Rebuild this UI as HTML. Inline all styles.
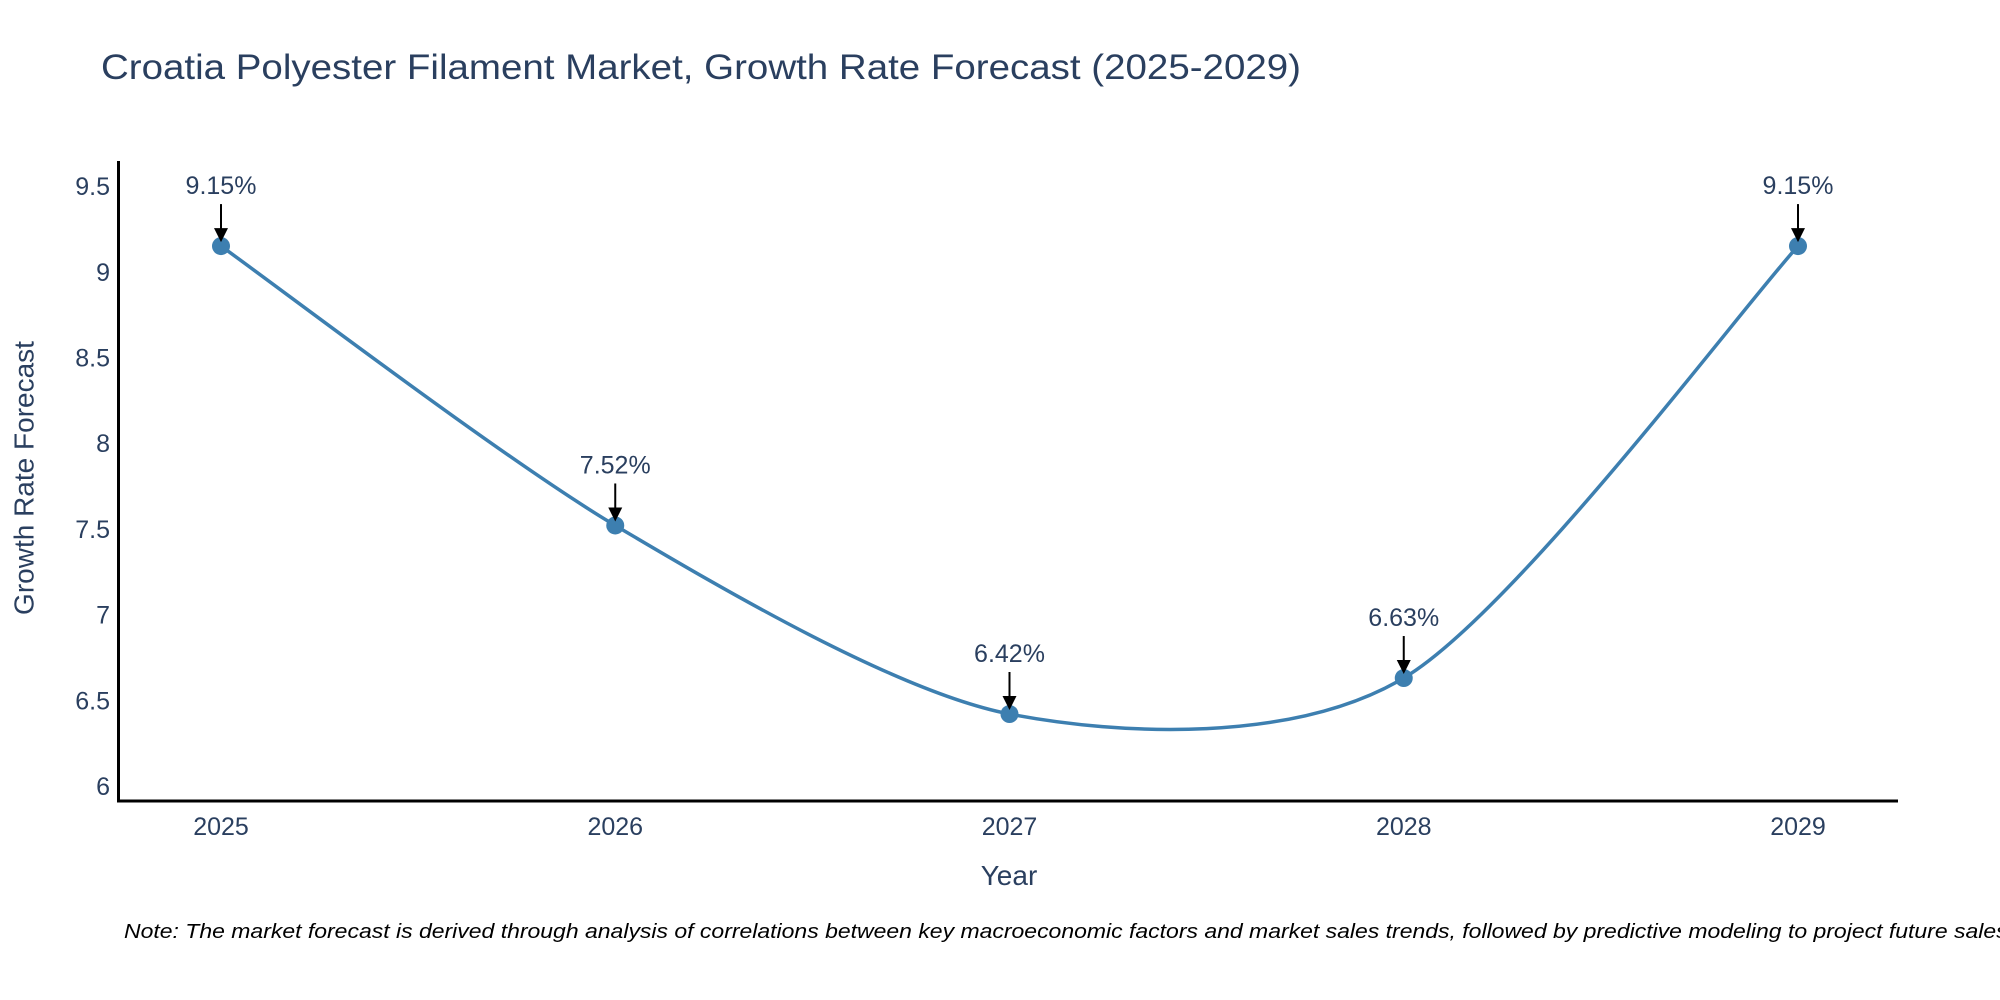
<!DOCTYPE html>
<html><head><meta charset="utf-8"><style>
body{margin:0;background:#fff}
svg{display:block;font-family:"Liberation Sans",sans-serif}
</style></head><body>
<svg id="chart" width="2000" height="1000">
<text x="101" y="79" font-size="35" fill="#2a3f5f" textLength="1200" lengthAdjust="spacingAndGlyphs">Croatia Polyester Filament Market, Growth Rate Forecast (2025-2029)</text>
<g id="yticks"></g>
<g id="xticks"></g>
<line x1="118.5" y1="161" x2="118.5" y2="802" stroke="#000" stroke-width="3"/>
<line x1="117" y1="801" x2="1898" y2="801" stroke="#000" stroke-width="3"/>
<text x="26" y="478" font-size="28" fill="#2a3f5f" text-anchor="middle" transform="rotate(-90 26 478)" dominant-baseline="middle">Growth Rate Forecast</text>
<text x="1009" y="885" font-size="28" fill="#2a3f5f" text-anchor="middle">Year</text>
<path id="line" fill="none" stroke="#3d7fb0" stroke-width="3.5"/>
<g id="marks"></g>
<text x="124" y="938" font-size="20" font-style="italic" fill="#000" textLength="1890" lengthAdjust="spacingAndGlyphs">Note: The market forecast is derived through analysis of correlations between key macroeconomic factors and market sales trends, followed by predictive modeling to project future sales.</text>
</svg>
<script>
const years=[2025,2026,2027,2028,2029];
const values=[9.15,7.52,6.42,6.63,9.15];
const labels=["9.15%","7.52%","6.42%","6.63%","9.15%"];
const yTicks=[6,6.5,7,7.5,8,8.5,9,9.5];
const yTickLabels=["6","6.5","7","7.5","8","8.5","9","9.5"];
const NS="http://www.w3.org/2000/svg";
const X=v=>221+(v-2025)*394.25;
const Y=v=>786-(v-6)*171.4;
function mk(t,a,p){const e=document.createElementNS(NS,t);for(const k in a)e.setAttribute(k,a[k]);p.appendChild(e);return e;}
const yt=document.getElementById('yticks');
yTicks.forEach((t,i)=>{const e=mk('text',{x:110,y:Y(t)+9,'font-size':25,fill:'#2a3f5f','text-anchor':'end'},yt);e.textContent=yTickLabels[i];

});
const xt=document.getElementById('xticks');
years.forEach(y=>{const e=mk('text',{x:X(y),y:835,'font-size':25,fill:'#2a3f5f','text-anchor':'middle'},xt);e.textContent=String(y);

});
const P=years.map((y,i)=>[X(y),Y(values[i])]);
let d=`M${P[0][0]},${P[0][1]}`;
for(let i=0;i<P.length-1;i++){const p0=P[i-1]||P[i],p1=P[i],p2=P[i+1],p3=P[i+2]||P[i+1];const t=0.14;
const c1=[p1[0]+(p2[0]-p0[0])*t,p1[1]+(p2[1]-p0[1])*t],c2=[p2[0]-(p3[0]-p1[0])*t,p2[1]-(p3[1]-p1[1])*t];
d+=` C${c1[0]},${c1[1]} ${c2[0]},${c2[1]} ${p2[0]},${p2[1]}`;}
document.getElementById('line').setAttribute('d',d);
const g=document.getElementById('marks');
P.forEach((p,i)=>{
const c=mk('circle',{cx:p[0],cy:p[1],r:9,fill:'#3d7fb0'},g);


const l=mk('line',{x1:p[0],y1:p[1]-42,x2:p[0],y2:p[1]-16,stroke:'#000','stroke-width':2},g);


const h=mk('path',{d:`M${p[0]-7},${p[1]-18} L${p[0]+7},${p[1]-18} L${p[0]},${p[1]-4} Z`,fill:'#000'},g);


const tx=mk('text',{x:p[0],y:p[1]-52,'font-size':25,fill:'#2a3f5f','text-anchor':'middle'},g);tx.textContent=labels[i];

});
</script>
</body></html>
